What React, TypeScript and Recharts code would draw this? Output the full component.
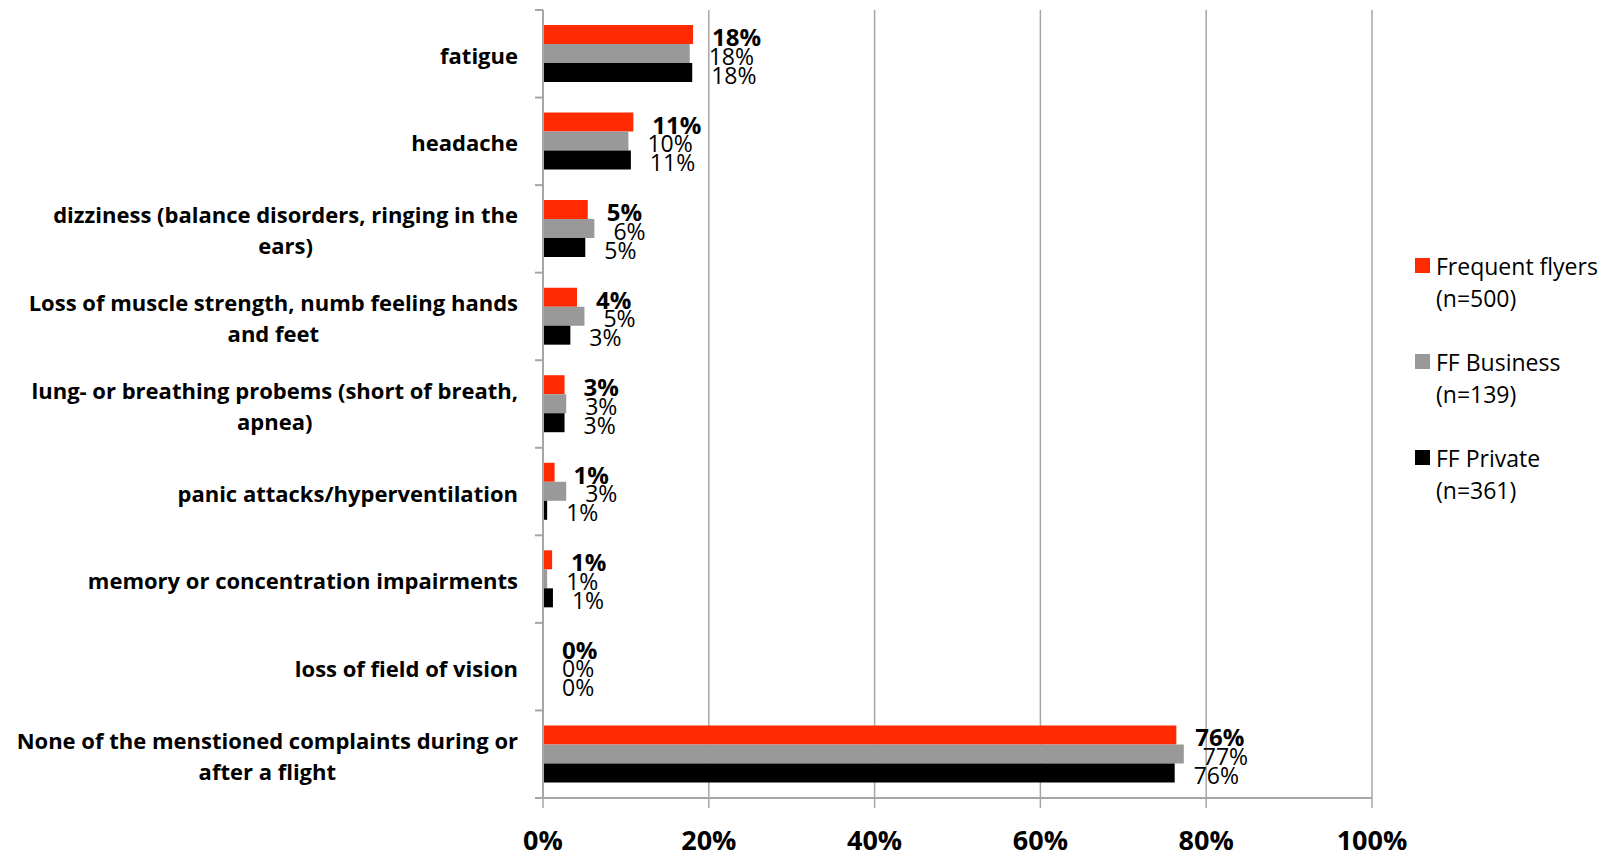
import React from 'react';
import { BarChart, Bar, XAxis, YAxis, CartesianGrid, LabelList } from 'recharts';

const categories = [
  'fatigue',
  'headache',
  'dizziness (balance disorders, ringing in the\nears)',
  'Loss of muscle strength, numb feeling hands\nand feet',
  'lung- or breathing probems (short of breath,\napnea)',
  'panic attacks/hyperventilation',
  'memory or concentration impairments',
  'loss of field of vision',
  'None of the menstioned complaints during or\nafter a flight',
];

const frequentFlyers = [18.1, 10.9, 5.4, 4.1, 2.6, 1.4, 1.1, 0, 76.4];
const ffBusiness = [17.7, 10.3, 6.2, 5.0, 2.8, 2.8, 0.5, 0, 77.3];
const ffPrivate = [18.0, 10.6, 5.1, 3.3, 2.6, 0.5, 1.2, 0, 76.2];

const xTicks = [0, 20, 40, 60, 80, 100];

const seriesNames = ['Frequent flyers', 'FF Business', 'FF Private'];
const seriesSizes = ['(n=500)', '(n=139)', '(n=361)'];
const seriesKeys = ['ff', 'biz', 'priv'];
const seriesColors = ['#ff2a00', '#999999', '#000000'];

const data = categories.map((c, i) => ({
  name: c,
  ff: frequentFlyers[i],
  biz: ffBusiness[i],
  priv: ffPrivate[i],
}));

const W = 1606;
const H = 854;
const LEFT = 543;
const TOP = 10;
const BOTTOM = 798;
const RIGHT = 1372;
const BAND = (BOTTOM - TOP) / categories.length;
const FONT = "'Open Sans', 'DejaVu Sans', sans-serif";
const GRID = '#a6a6a6';

let ctx: CanvasRenderingContext2D | null = null;
function measure(text: string, font: string): number {
  if (!ctx) ctx = document.createElement('canvas').getContext('2d');
  if (!ctx) return text.length * 10;
  ctx.font = font;
  return ctx.measureText(text).width;
}

const CAT_SIZE = 22;

const CatTick = (props: any) => {
  const { y, payload, index } = props;
  const lines: string[] = String(payload.value).split('\n');
  const right = LEFT - 25;
  const lh = 31;
  const w0 = measure(lines[0], `bold ${CAT_SIZE}px 'Open Sans'`);
  const center = right - w0 / 2;
  return (
    <g>
      <line x1={LEFT - 8} x2={LEFT} y1={y - BAND / 2} y2={y - BAND / 2} stroke={GRID} strokeWidth={2} />
      {index === categories.length - 1 && (
        <line x1={LEFT - 8} x2={LEFT} y1={y + BAND / 2} y2={y + BAND / 2} stroke={GRID} strokeWidth={2} />
      )}
      {lines.map((ln, i) => {
        const ly = y + 1 + (i - (lines.length - 1) / 2) * lh;
        return (
          <text
            key={i}
            x={i === 0 ? right : center}
            y={ly}
            textAnchor={i === 0 ? 'end' : 'middle'}
            dominantBaseline="central"
            fontFamily={FONT}
            fontWeight="bold"
            fontSize={CAT_SIZE}
            fill="#000"
          >
            {ln}
          </text>
        );
      })}
    </g>
  );
};

const XTick = (props: any) => {
  const { x, payload } = props;
  return (
    <text
      x={x}
      y={BOTTOM + 41}
      textAnchor="middle"
      dominantBaseline="central"
      fontFamily={FONT}
      fontWeight="bold"
      fontSize={27}
      fill="#000"
    >
      {payload.value + '%'}
    </text>
  );
};

const makeLabel = (bold: boolean) => (props: any) => {
  const { x, y, width, height, value } = props;
  return (
    <text
      x={x + width + 19}
      y={y + height / 2 + 2}
      dominantBaseline="central"
      fontFamily={FONT}
      fontWeight={bold ? 'bold' : 'normal'}
      fontSize={bold ? 24 : 23}
      fill="#000"
    >
      {Math.round(value) + '%'}
    </text>
  );
};

export default function App() {
  return (
    <div style={{ position: 'absolute', left: 0, top: 0, width: W, height: H, background: '#fff' }}>
      <BarChart
        width={W}
        height={H}
        data={data}
        layout="vertical"
        margin={{ top: TOP, right: W - RIGHT, bottom: 0, left: 0 }}
        barGap={0}
        barSize={19}
      >
        <CartesianGrid horizontal={false} vertical={true} stroke={GRID} strokeWidth={1.5} />
        <XAxis
          type="number"
          domain={[0, 100]}
          ticks={xTicks}
          height={H - BOTTOM}
          axisLine={{ stroke: GRID, strokeWidth: 2 }}
          tickLine={{ stroke: GRID, strokeWidth: 1.5 }}
          tickSize={10}
          tick={<XTick />}
          interval={0}
        />
        <YAxis
          type="category"
          dataKey="name"
          width={LEFT}
          axisLine={{ stroke: GRID, strokeWidth: 2 }}
          tickLine={false}
          tick={<CatTick />}
          interval={0}
        />
        {seriesKeys.map((k, i) => (
          <Bar key={k} dataKey={k} fill={seriesColors[i]} minPointSize={0.01} isAnimationActive={false}>
            <LabelList dataKey={k} content={makeLabel(i === 0)} />
          </Bar>
        ))}
      </BarChart>
      <div style={{ position: 'absolute', left: 1415, top: 250, fontFamily: FONT, fontSize: 23, color: '#000' }}>
        {seriesNames.map((n, i) => (
          <div key={n} style={{ position: 'relative', height: 96 }}>
            <div style={{ position: 'absolute', left: 0, top: 8, width: 15, height: 15, background: seriesColors[i] }} />
            <div style={{ position: 'absolute', left: 21, top: 0, lineHeight: '32px', whiteSpace: 'nowrap' }}>
              <div>{n}</div>
              <div>{seriesSizes[i]}</div>
            </div>
          </div>
        ))}
      </div>
    </div>
  );
}
